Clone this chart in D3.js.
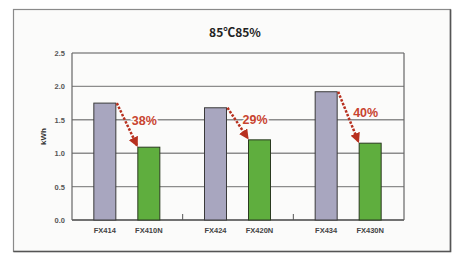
<!DOCTYPE html>
<html>
<head>
<meta charset="utf-8">
<script src="https://d3js.org/d3.v7.min.js"></script>
<style>
  body { margin: 0; background: #fff; }
  svg { display: block; }
</style>
</head>
<body>
<div id="chart"></div>
<script>
const width = 455;
const height = 254;

// data
const groups = ['g1', 'g2', 'g3'];
const oldModels = ['FX414', 'FX424', 'FX434'];
const newModels = ['FX410N', 'FX420N', 'FX430N'];
const oldValues = [1.75, 1.68, 1.92];
const newValues = [1.09, 1.20, 1.15];
const savings = ['38%', '29%', '40%'];
const yTicks = [0, 0.5, 1.0, 1.5, 2.0, 2.5];

const plot = {left: 72, right: 404, top: 53, bottom: 220};
const barW = 22;
const red = '#c8432f';

const svg = d3.select('#chart')
  .append('svg')
  .attr('width', width)
  .attr('height', height);

svg.append('defs').append('marker')
    .attr('id', 'arrow')
    .attr('viewBox', '0 -5 10 10')
    .attr('refX', 8)
    .attr('markerWidth', 4)
    .attr('markerHeight', 4)
    .attr('markerUnits', 'strokeWidth')
    .attr('orient', 'auto')
  .append('path')
    .attr('d', 'M0,-5L10,0L0,5Z')
    .attr('fill', '#b8301f');

// outer frame
svg.append('rect')
  .attr('x', 13.5).attr('y', 9.5)
  .attr('width', 437).attr('height', 242)
  .attr('fill', '#fbfbfa')
  .attr('stroke', '#8a8a8a')
  .attr('stroke-width', 1.2);
svg.append('path')
  .attr('d', 'M450.5,9.5V251.5H13.5')
  .attr('fill', 'none')
  .attr('stroke', '#555')
  .attr('stroke-width', 1.6);

svg.append('text')
  .attr('x', 235).attr('y', 37)
  .attr('text-anchor', 'middle')
  .style('font-family', '"Noto Sans CJK JP", "Liberation Sans", sans-serif')
  .style('font-size', '12px')
  .style('font-weight', 'bold')
  .style('fill', '#222')
  .text('85℃85%');

const x = d3.scaleBand()
  .domain(groups)
  .range([plot.left, plot.right]);

const y = d3.scaleLinear()
  .domain([0, 2.5])
  .range([plot.bottom, plot.top]);

// gridlines
svg.append('g')
  .selectAll('line')
  .data(yTicks)
  .join('line')
    .attr('x1', plot.left).attr('x2', plot.right)
    .attr('y1', d => y(d)).attr('y2', d => y(d))
    .attr('stroke', d => d === 0 ? '#444' : '#8c8c8c')
    .attr('stroke-width', 1.4);

// frame sides
svg.append('line')
  .attr('x1', plot.left).attr('x2', plot.left)
  .attr('y1', plot.top).attr('y2', plot.bottom)
  .attr('stroke', '#666').attr('stroke-width', 1.2);
svg.append('line')
  .attr('x1', plot.right).attr('x2', plot.right)
  .attr('y1', plot.top).attr('y2', plot.bottom)
  .attr('stroke', '#666').attr('stroke-width', 1.2);

// y axis labels
const yAxis = d3.axisLeft(y)
  .tickValues(yTicks)
  .tickFormat(d3.format('.1f'))
  .tickSize(0)
  .tickPadding(7);

svg.append('g')
  .attr('transform', `translate(${plot.left},0)`)
  .call(yAxis)
  .call(g => g.select('.domain').remove())
  .selectAll('text')
    .style('font-family', '"Liberation Sans", sans-serif')
    .style('font-size', '7.5px')
    .style('font-weight', 'bold')
    .style('fill', '#555');

svg.append('text')
  .attr('transform', 'translate(46,' + ((plot.top + plot.bottom) / 2) + ') rotate(-90)')
  .attr('text-anchor', 'middle')
  .style('font-family', '"Liberation Sans", sans-serif')
  .style('font-size', '8px')
  .style('font-weight', 'bold')
  .style('fill', '#333')
  .text('kWh');

// small category separators
svg.append('g')
  .selectAll('line')
  .data(groups.slice(1))
  .join('line')
    .attr('x1', d => x(d)).attr('x2', d => x(d))
    .attr('y1', plot.bottom).attr('y2', plot.bottom - 6)
    .attr('stroke', '#555').attr('stroke-width', 1);

const oldX = i => x(groups[i]) + x.bandwidth() / 2 - 22.5 - barW / 2;
const newX = i => x(groups[i]) + x.bandwidth() / 2 + 21.5 - barW / 2;

svg.append('g')
  .selectAll('rect')
  .data(oldValues)
  .join('rect')
    .attr('x', (d, i) => oldX(i))
    .attr('y', d => y(d))
    .attr('width', barW)
    .attr('height', d => y(0) - y(d))
    .attr('fill', '#a8a6bf')
    .attr('stroke', '#3a3a3a')
    .attr('stroke-width', 1);

svg.append('g')
  .selectAll('rect')
  .data(newValues)
  .join('rect')
    .attr('x', (d, i) => newX(i))
    .attr('y', d => y(d))
    .attr('width', barW)
    .attr('height', d => y(0) - y(d))
    .attr('fill', '#5fae3e')
    .attr('stroke', '#2a3a20')
    .attr('stroke-width', 1);

// x labels
const labelStyle = sel => sel
  .attr('text-anchor', 'middle')
  .style('font-family', '"Liberation Sans", sans-serif')
  .style('font-size', '7.5px')
  .style('font-weight', 'bold')
  .style('fill', '#444');

svg.append('g').selectAll('text')
  .data(oldModels)
  .join('text')
    .attr('x', (d, i) => oldX(i) + barW / 2)
    .attr('y', 233)
    .text(d => d)
    .call(labelStyle);

svg.append('g').selectAll('text')
  .data(newModels)
  .join('text')
    .attr('x', (d, i) => newX(i) + barW / 2)
    .attr('y', 233)
    .text(d => d)
    .call(labelStyle);

// dotted arrows + savings labels
const arrows = groups.map((g, i) => ({
  x1: oldX(i) + barW + 1, y1: y(oldValues[i]),
  x2: newX(i) - 1, y2: y(newValues[i]) - 2,
  label: savings[i]
}));

const ann = svg.append('g');

ann.selectAll('text')
  .data(arrows)
  .join('text')
    .attr('x', d => (d.x1 + d.x2) / 2 + 5)
    .attr('y', d => (d.y1 + d.y2) / 2 + 1)
    .style('font-family', '"Liberation Sans", sans-serif')
    .style('font-size', '12.5px')
    .style('font-weight', 'bold')
    .style('fill', red)
    .style('paint-order', 'stroke')
    .style('stroke', '#fbfbfa')
    .style('stroke-width', 3)
    .text(d => d.label);

ann.selectAll('line')
  .data(arrows)
  .join('line')
    .attr('x1', d => d.x1).attr('y1', d => d.y1)
    .attr('x2', d => d.x2).attr('y2', d => d.y2)
    .attr('stroke', '#b8301f')
    .attr('stroke-width', 2.5)
    .attr('stroke-dasharray', '2.5,1.5')
    .attr('marker-end', 'url(#arrow)');
</script>
</body>
</html>
